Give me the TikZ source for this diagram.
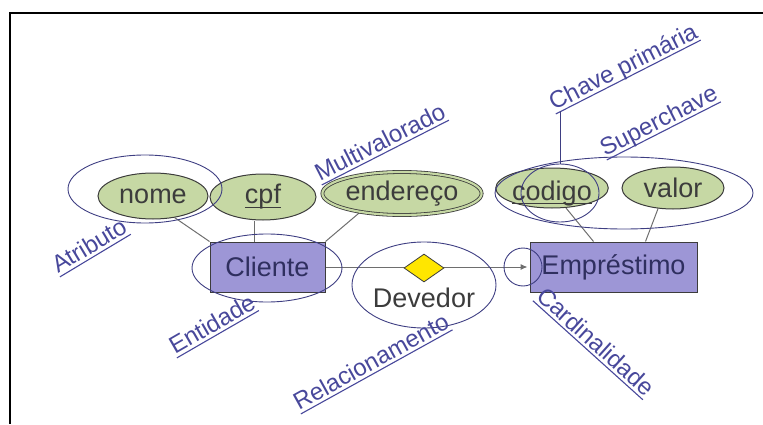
\documentclass[tikz,border=0pt]{standalone}
\usepackage{fontspec}
\setmainfont{Liberation Sans}
\usetikzlibrary{shapes.geometric,arrows.meta,backgrounds}
\definecolor{attrfill}{RGB}{198,216,164}
\definecolor{entfill}{RGB}{157,150,214}
\definecolor{relfill}{RGB}{255,230,0}
\definecolor{inkgray}{RGB}{60,60,60}
\definecolor{entink}{RGB}{47,47,95}
\definecolor{linegray}{RGB}{110,110,110}
\definecolor{notecol}{RGB}{62,62,130}
\definecolor{labcol}{RGB}{72,72,155}
\newcommand\nodefont{\fontsize{27}{31}\selectfont}
\newcommand\labfont{\fontsize{24}{28}\selectfont}
% text with a rule drawn a little below its baseline
\newcommand\ulinetext[2][4pt]{\setbox0\hbox{#2}\rlap{\rule[-#1]{\wd0}{1.1pt}}\box0}
\begin{document}
\begin{tikzpicture}[x=1pt,y=1pt,
  attr/.style={ellipse, draw=inkgray, line width=1pt, fill=attrfill,
    inner sep=0pt, font=\nodefont, text=inkgray},
  entity/.style={rectangle, draw=inkgray, line width=1pt, fill=entfill,
    inner sep=0pt, font=\nodefont, text=entink},
  rel/.style={diamond, draw=inkgray, line width=0.8pt, fill=relfill,
    inner sep=0pt, minimum width=40pt, minimum height=28pt},
  link/.style={draw=linegray, line width=1pt},
  note/.style={ellipse, draw=notecol, line width=0.9pt, inner sep=0pt},
  lab/.style={font=\labfont, text=labcol, inner sep=0pt, anchor=base west}]
\useasboundingbox (0,0) rectangle (763,424);
% frame
\draw[line width=2pt] (763,411) -- (10,411) -- (10,0);

% entities
\node[entity, minimum width=115pt, minimum height=50pt] (cli) at (267.5,157) {Cliente};
\node[entity, minimum width=167pt, minimum height=50pt] (emp) at (613.5,157) {Empréstimo};

% attributes
\node[attr, minimum width=110pt, minimum height=46pt] (nome) at (153,228) {nome};
\node[attr, minimum width=106pt, minimum height=46pt] (cpf) at (263,227) {\ulinetext{cpf}};
\node[attr, minimum width=140pt, minimum height=43pt, double=attrfill,
  double distance=2.2pt, line width=0.8pt] (end) at (402,230.5) {endereço};
\node[attr, minimum width=98pt, minimum height=40pt, text height=24pt,
  text depth=0pt] (cod) at (552,236) {\ulinetext{codigo}};
\node[attr, minimum width=102pt, minimum height=42pt] (val) at (673,236) {valor};

% relationship
\node[rel] (dev) at (424,156) {};
\node[font=\nodefont, text=inkgray, inner sep=0pt] (devtxt) at (424,126) {Devedor};

% connectors
\begin{pgfonlayer}{background}
\draw[link] (nome.315) -- (cli.north west);
\draw[link] ([xshift=-9pt]cpf.south) -- ([xshift=-9pt]cpf.south |- cli.north);
\draw[link] (end.204) -- (cli.north east);
\draw[link] (cod.305) -- ([xshift=-20pt]emp.north);
\draw[link] (val.234) -- ([xshift=32pt]emp.north);
\draw[link, -{Latex[length=7pt,width=6pt]}, shorten >=2pt] (cli.east) -- (emp.west);
\end{pgfonlayer}

% annotation outlines
\node[note, minimum width=154pt, minimum height=68pt] (atrring) at (145,235) {};
\node[note, minimum width=150pt, minimum height=68pt] (entring) at (267,156) {};
\node[note, minimum width=144pt, minimum height=86pt] (relring) at (424,139) {};
\node[note, minimum width=38pt, minimum height=38pt] (cardring) at (523,157) {};
\node[note, minimum width=258pt, minimum height=72pt] (supring) at (624,231) {};
\node[note, minimum width=78pt, minimum height=58pt] (pkring) at (560,231) {};

% annotation labels
\node[lab, rotate=31] (atr) at (58,150) {\ulinetext{Atributo}};
\node[lab, rotate=30] (ent) at (175,69) {\ulinetext{Entidade}};
\node[lab, rotate=29] (rela) at (299,13) {\ulinetext{Relacionamento}};
\node[lab, rotate=27] (mult) at (320,242) {\ulinetext{Multivalorado}};
\node[lab, rotate=27] (chp) at (554,313) {\ulinetext{Chave primária}};
\node[lab, rotate=27] (sup) at (605,267) {\ulinetext{Superchave}};
\node[lab, rotate=-42] (card) at (535,126) {\ulinetext{Cardinalidade}};
\draw[draw=notecol, line width=0.9pt] (pkring.north) -- (pkring.north |- chp.base west);
\end{tikzpicture}
\end{document}
